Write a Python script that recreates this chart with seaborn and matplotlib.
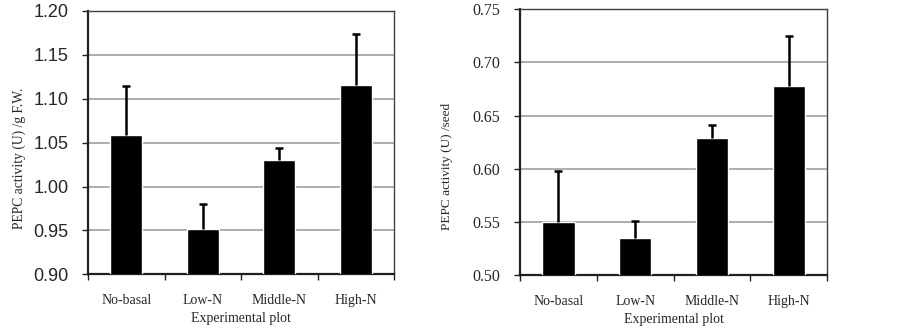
import matplotlib
matplotlib.use('Agg')
import matplotlib.pyplot as plt
import seaborn as sns
import pandas as pd

plots = ['No-basal', 'Low-N', 'Middle-N', 'High-N']

# PEPC activity per g fresh weight
fw_mean = [1.059, 0.952, 1.030, 1.116]
fw_err = [0.055, 0.028, 0.014, 0.058]

# PEPC activity per seed
seed_mean = [0.550, 0.535, 0.629, 0.678]
seed_err = [0.048, 0.016, 0.012, 0.047]

sns.set_theme(style='white')
plt.rcParams['font.family'] = ['Liberation Serif', 'DejaVu Serif']

fig = plt.figure(figsize=(9.02, 3.32), dpi=100)
ax1 = fig.add_axes([0.0976, 0.1738, 0.3392, 0.7931])
ax2 = fig.add_axes([0.5765, 0.1708, 0.3404, 0.8012])


def draw(ax, means, errs, ylim, ylabel, tick_font, tick_size, label_xy, ylabelsize):
    df = pd.DataFrame({'plot': plots, 'value': means})
    sns.barplot(data=df, x='plot', y='value', color='black', width=0.42,
                saturation=1, ax=ax, zorder=3)
    # upper error bars only
    _, caps, _ = ax.errorbar(range(len(plots)), means,
                             yerr=[[0] * len(errs), errs],
                             fmt='none', ecolor='black', elinewidth=1.8,
                             capsize=3.2, capthick=1.8, zorder=4)
    for cap in caps:
        if list(cap.get_ydata()) == list(means):
            cap.set_visible(False)
    ax.set_ylim(*ylim)
    ax.set_xlim(-0.5, len(plots) - 0.5)
    n = int(round((ylim[1] - ylim[0]) / 0.05))
    ticks = [ylim[0] + 0.05 * i for i in range(n + 1)]
    ax.set_yticks(ticks)
    ax.set_yticklabels(['%.2f' % t for t in ticks], family=tick_font,
                       fontsize=tick_size)
    ax.yaxis.grid(True, color='#a0a0a0', linewidth=1.2, zorder=0)
    ax.set_axisbelow(True)
    ax.set_xticks(range(len(plots)))
    ax.set_xticklabels(plots, fontsize=10)
    ax.tick_params(axis='x', length=0, pad=14)
    # boundary ticks between categories
    ax.set_xticks([i - 0.5 for i in range(len(plots) + 1)], minor=True)
    ax.tick_params(axis='x', which='minor', length=4, width=1, color='#202020',
                   direction='out', bottom=True)
    ax.tick_params(axis='y', length=4, width=1, color='#202020', direction='out',
                   left=True, pad=10)
    ax.set_xlabel('Experimental plot', fontsize=10, labelpad=4)
    ax.set_ylabel(ylabel, fontsize=ylabelsize)
    ax.yaxis.set_label_coords(*label_xy)
    for side in ['left', 'bottom']:
        ax.spines[side].set_color('#202020')
        ax.spines[side].set_linewidth(1.6)
    for side in ['top', 'right']:
        ax.spines[side].set_color('#404040')
        ax.spines[side].set_linewidth(1.0)


draw(ax1, fw_mean, fw_err, (0.90, 1.20), 'PEPC activity (U) /g F.W.',
     'Liberation Sans', 13, (-0.203, 0.44), 9.8)
draw(ax2, seed_mean, seed_err, (0.50, 0.75), 'PEPC activity (U) /seed',
     'Liberation Serif', 11.5, (-0.218, 0.41), 9.5)

fig.savefig('out.png', dpi=100)
